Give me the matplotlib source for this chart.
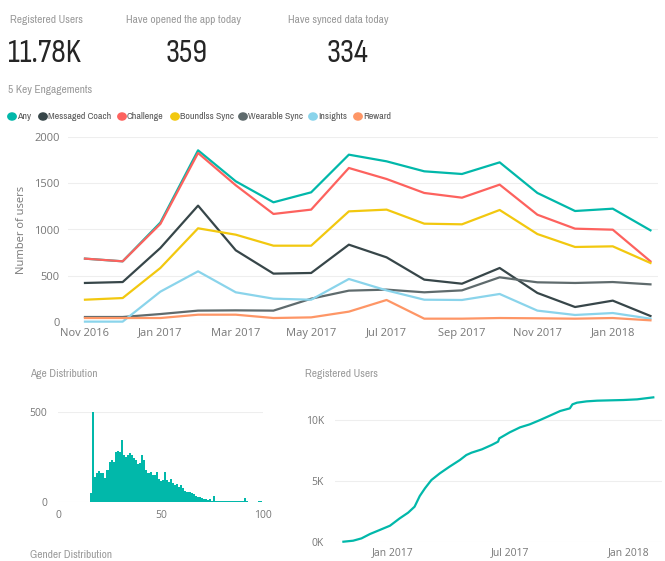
import numpy as np
import pandas as pd
import matplotlib
matplotlib.use("Agg")
import matplotlib.pyplot as plt
import matplotlib.dates as mdates
from matplotlib.ticker import FuncFormatter

plt.rcParams['font.family'] = ['Open Sans', 'DejaVu Sans']
NARROW = ['Archivo Narrow', 'DejaVu Sans']
BIG = ['Sofia Sans Condensed', 'Archivo Narrow', 'DejaVu Sans']

# KPI cards
card_titles = ["Registered Users", "Have opened the app today", "Have synced data today"]
card_values = ["11.78K", "359", "334"]

# 5 key engagements, monthly (Nov 2016 - Feb 2018)
months = pd.date_range("2016-11-01", "2018-02-01", freq="MS")
month_ticks = ["Nov 2016", "Jan 2017", "Mar 2017", "May 2017", "Jul 2017",
               "Sep 2017", "Nov 2017", "Jan 2018"]
any_users = [685, 656, 1075, 1856, 1521, 1294, 1402, 1809, 1737, 1629, 1600, 1726, 1395, 1200, 1225, 991]
messaged_coach = [422, 432, 800, 1258, 775, 523, 530, 836, 699, 458, 414, 584, 314, 162, 231, 65]
challenge = [685, 656, 1060, 1827, 1478, 1168, 1215, 1665, 1546, 1395, 1344, 1485, 1160, 1009, 998, 656]
boundlss_sync = [241, 259, 584, 1013, 944, 825, 825, 1196, 1215, 1063, 1056, 1211, 951, 811, 818, 638]
wearable_sync = [54, 54, 86, 123, 126, 123, 252, 339, 350, 321, 342, 483, 429, 422, 432, 407]
insights = [4, 4, 328, 548, 321, 252, 241, 465, 342, 241, 238, 303, 123, 76, 97, 36]
reward = [43, 43, 43, 79, 79, 43, 50, 112, 238, 36, 36, 43, 40, 36, 43, 18]

series_names = ["Any", "Messaged Coach", "Challenge", "Boundlss Sync",
                "Wearable Sync", "Insights", "Reward"]
series_colors = ["#01B8AA", "#374649", "#FD625E", "#F2C80F",
                 "#5F6B6D", "#8AD4EB", "#FE9666"]
series_values = [any_users, messaged_coach, challenge, boundlss_sync,
                 wearable_sync, insights, reward]

# age distribution
ages = list(range(16, 100))
age_counts = [48, 498, 141, 159, 172, 159, 163, 135, 178, 220, 233, 224, 279, 285, 279,
              344, 261, 252, 261, 270, 261, 246, 233, 209, 215, 261, 233, 178, 159, 168,
              150, 150, 168, 128, 117, 122, 168, 122, 113, 128, 104, 94, 100, 85, 94,
              80, 61, 57, 54, 48, 43, 35, 30, 26, 22, 19, 15, 13, 19, 7, 35,
              4, 4, 4, 4, 4, 4, 4, 4, 4, 4, 4, 4, 4, 4, 20, 4,
              0, 0, 0, 0, 0, 4, 4]

# cumulative registered users
reg_dates = pd.to_datetime([
    "2016-10-17", "2016-11-01", "2016-11-14", "2016-11-27", "2016-12-12", "2016-12-28",
    "2017-01-12", "2017-01-25", "2017-02-04", "2017-02-12", "2017-02-20", "2017-03-02",
    "2017-03-15", "2017-03-30", "2017-04-15", "2017-04-25", "2017-05-03", "2017-05-19",
    "2017-06-03", "2017-06-13", "2017-06-15", "2017-07-01", "2017-07-17", "2017-08-01",
    "2017-08-17", "2017-09-01", "2017-09-17", "2017-10-02", "2017-10-06", "2017-10-13",
    "2017-10-28", "2017-11-13", "2017-12-03", "2017-12-24", "2018-01-14", "2018-02-08"])
reg_users = [0, 82, 274, 630, 960, 1315, 1918, 2384, 2877, 3754, 4384, 5069,
             5617, 6165, 6713, 7124, 7316, 7590, 7946, 8220, 8494, 8987, 9398, 9645,
             10001, 10357, 10741, 10960, 11289, 11426, 11535, 11590, 11618, 11645, 11700, 11864]

title_gray = "#9A9A9A"
tick_gray = "#777777"
grid_col = "#EEEEEE"

fig = plt.figure(figsize=(6.65, 5.61), dpi=100)
W, H = 665, 561


def fx(px):
    return px / W


def fy(py):
    return 1 - py / H


# cards
card_title_x = [10, 126, 288]
card_value_x = [8, 187, 347]
for i, (t, v) in enumerate(zip(card_titles, card_values)):
    fig.text(fx(card_title_x[i]), fy(20), t, color=title_gray, fontsize=8.2,
             family=NARROW, va="center")
    ha = "left" if i == 0 else "center"
    fig.text(fx(card_value_x[i]), fy(53), v, color="#252525", fontsize=24,
             family=BIG, ha=ha, va="center")

fig.text(fx(8), fy(90), "5 Key Engagements", color=title_gray, fontsize=8.2,
         family=NARROW, va="center")

# legend row
legend_x = [12, 43, 122, 175, 243, 313, 358]
for name, col, lx in zip(series_names, series_colors, legend_x):
    fig.patches.append(plt.Circle((fx(lx), fy(116.5)), 4.2 / W, color=col,
                                  transform=fig.transFigure, figure=fig))
    fig.text(fx(lx + 5), fy(116.5), name, color="#555555", fontsize=7.1,
             family=NARROW, va="center")

# main line chart
ax = fig.add_axes([fx(68), fy(322), fx(658) - fx(68), fy(137) - fy(322)])
xs = np.arange(len(months))
for name, col, vals in zip(series_names, series_colors, series_values):
    ax.plot(xs, vals, color=col, lw=1.6, clip_on=False, zorder=3)
ax.set_xlim(-0.45, 15.2)
ax.set_ylim(0, 2000)
ax.set_yticks([0, 500, 1000, 1500, 2000])
ax.set_xticks(xs[::2])
ax.set_xticklabels(month_ticks)
ax.set_ylabel("Number of users", color=tick_gray, fontsize=8)
ax.yaxis.set_label_coords(-0.07, 0.5)
ax.grid(axis="y", color=grid_col, lw=0.8)
ax.set_axisbelow(True)
ax.tick_params(length=0, colors=tick_gray, labelsize=8)
ax.tick_params(axis="y", pad=6)
ax.tick_params(axis="x", pad=4)
for s in ax.spines.values():
    s.set_visible(False)

# age distribution
fig.text(fx(30), fy(374), "Age Distribution", color=title_gray, fontsize=8.2,
         family=NARROW, va="center")
fig.text(fx(30), fy(555), "Gender Distribution", color=title_gray, fontsize=8.2,
         family=NARROW, va="center")
ax2 = fig.add_axes([fx(58.3), fy(502), fx(263.3) - fx(58.3), fy(412) - fy(502)])
ax2.bar(ages, age_counts, width=1.0, color="#01B8AA", linewidth=0, zorder=3)
ax2.set_xlim(0, 100)
ax2.set_ylim(0, 500)
ax2.set_xticks([0, 50, 100])
ax2.set_yticks([0, 500])
ax2.grid(axis="y", color=grid_col, lw=0.8)
ax2.set_axisbelow(True)
ax2.tick_params(length=0, colors=tick_gray, labelsize=7.5, pad=8)
ax2.tick_params(axis="x", pad=6)
for s in ax2.spines.values():
    s.set_visible(False)

# registered users
fig.text(fx(305), fy(374), "Registered Users", color=title_gray, fontsize=8.2,
         family=NARROW, va="center")
ax3 = fig.add_axes([fx(335), fy(541.7), fx(661.7) - fx(335), fy(395.7) - fy(541.7)])
ax3.plot(reg_dates, reg_users, color="#01B8AA", lw=1.6, clip_on=False, zorder=3)
ax3.set_xlim(pd.Timestamp("2016-10-04"), pd.Timestamp("2018-02-21"))
ax3.set_ylim(0, 12000)
ax3.set_yticks([0, 5000, 10000])
ax3.yaxis.set_major_formatter(FuncFormatter(lambda v, p: f"{int(v / 1000)}K"))
ax3.xaxis.set_major_locator(mdates.MonthLocator(bymonth=[1, 7]))
ax3.xaxis.set_major_formatter(mdates.DateFormatter("%b %Y"))
ax3.grid(axis="y", color=grid_col, lw=0.8)
ax3.set_axisbelow(True)
ax3.tick_params(length=0, colors=tick_gray, labelsize=7.5, pad=8)
ax3.tick_params(axis="x", pad=4)
for s in ax3.spines.values():
    s.set_visible(False)

fig.savefig("out.png", dpi=100)
